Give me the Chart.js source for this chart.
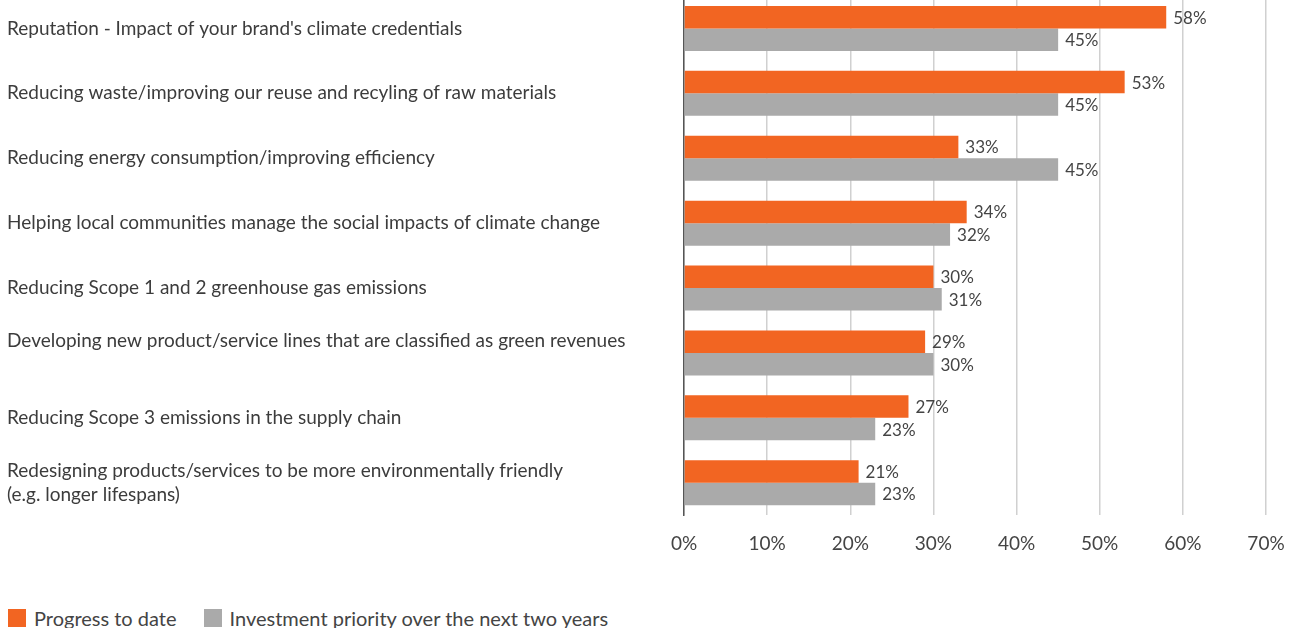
<!DOCTYPE html>
<html>
<head>
<meta charset="utf-8">
<script src="https://cdn.jsdelivr.net/npm/chart.js@4"></script>
<style>
    html, body { margin: 0; padding: 0; background: #fff; }
    body { width: 1296px; height: 628px; position: relative; overflow: hidden; font-family: Lato, sans-serif; }
    .chart-wrap { position: absolute; left: 0; top: -4px; width: 1296px; height: 576px; }
    .legend { position: absolute; left: 8px; top: 609px; display: flex; align-items: center; font-size: 20px; color: #444; line-height: 18px; }
    .legend-item { display: flex; align-items: center; margin-right: 27px; }
    .legend-box { width: 18px; height: 18px; margin-right: 8px; }
</style>
</head>
<body>
<div class="chart-wrap"><canvas id="chart"></canvas></div>
<div class="legend" id="legend"></div>
<script>
const categories = [
    "Reputation - Impact of your brand's climate credentials",
    'Reducing waste/improving our reuse and recyling of raw materials',
    'Reducing energy consumption/improving efficiency',
    'Helping local communities manage the social impacts of climate change',
    'Reducing Scope 1 and 2 greenhouse gas emissions',
    ['Developing new product/service lines that are classified as green revenues', ''],
    'Reducing Scope 3 emissions in the supply chain',
    ['Redesigning products/services to be more environmentally friendly', '(e.g. longer lifespans)'],
];
const progressToDate = [58, 53, 33, 34, 30, 29, 27, 21];
const investmentPriority = [45, 45, 45, 32, 31, 30, 23, 23];
const seriesNames = ['Progress to date', 'Investment priority over the next two years'];
const seriesColors = ['#f26522', '#aaaaaa'];

const FONT = 'Lato, sans-serif';

// value labels just past the end of each bar
const barValueLabels = {
    id: 'barValueLabels',
    afterDatasetsDraw(chart) {
        const ctx = chart.ctx;
        ctx.save();
        ctx.font = '17px ' + FONT;
        ctx.fillStyle = '#444';
        ctx.textAlign = 'left';
        ctx.textBaseline = 'middle';
        chart.data.datasets.forEach((ds, i) => {
            chart.getDatasetMeta(i).data.forEach((bar, j) => {
                ctx.fillText(ds.data[j] + '%', bar.x + 7, bar.y + 1);
            });
        });
        ctx.restore();
    }
};

const chart = new Chart(document.getElementById('chart'), {
    type: 'bar',
    data: {
        labels: categories,
        datasets: [
            { label: seriesNames[0], data: progressToDate, backgroundColor: seriesColors[0] },
            { label: seriesNames[1], data: investmentPriority, backgroundColor: seriesColors[1] },
        ],
    },
    options: {
        indexAxis: 'y',
        responsive: true,
        maintainAspectRatio: false,
        animation: false,
        layout: { padding: { left: 7, right: 30, top: 0, bottom: 0 } },
        datasets: {
            bar: { categoryPercentage: 0.693, barPercentage: 1.0 },
        },
        plugins: {
            legend: { display: false },
            tooltip: { enabled: false },
        },
        scales: {
            x: {
                min: 0,
                max: 70,
                afterFit(scale) {
                    scale.paddingLeft = 0;
                    scale.paddingRight = 0;
                },
                ticks: {
                    stepSize: 10,
                    padding: 17,
                    color: '#444',
                    font: { family: FONT, size: 19 },
                    callback: (v) => v + '%',
                },
                grid: { color: '#d0d0d0', lineWidth: 1.5, drawTicks: false },
                border: { display: false },
            },
            y: {
                afterFit(scale) {
                    scale.width = 677;
                    // labels sit inside their bands, no extra room above/below
                    scale.paddingTop = 0;
                    scale.paddingBottom = 0;
                },
                ticks: {
                    crossAlign: 'far',
                    color: '#3c3c3c',
                    font: { family: FONT, size: 19, lineHeight: 1.263 },
                },
                grid: { display: false },
                border: { display: true, color: '#555', width: 1.5 },
            },
        },
    },
    plugins: [barValueLabels],
});

// legend built from the chart's datasets
const legendEl = document.getElementById('legend');
chart.data.datasets.forEach((ds) => {
    const item = document.createElement('div');
    item.className = 'legend-item';
    const box = document.createElement('span');
    box.className = 'legend-box';
    box.style.background = ds.backgroundColor;
    const text = document.createElement('span');
    text.textContent = ds.label;
    item.appendChild(box);
    item.appendChild(text);
    legendEl.appendChild(item);
});
</script>
</body>
</html>
